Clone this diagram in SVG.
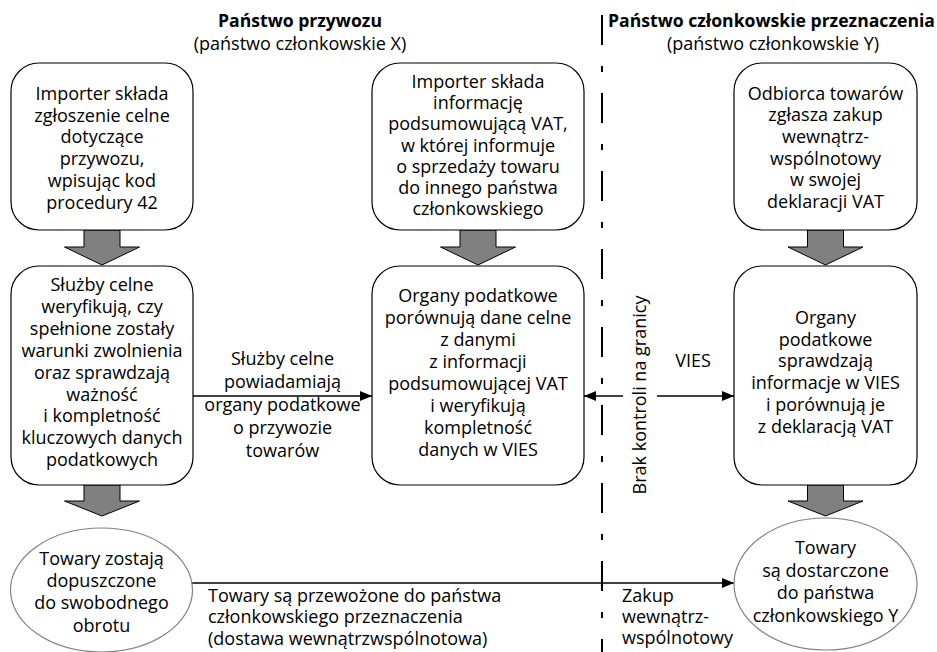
<svg xmlns="http://www.w3.org/2000/svg" width="937" height="652" viewBox="0 0 937 652">
<style>
.t{font-family:"Open Sans","DejaVu Sans",sans-serif;font-size:18px;fill:#000;text-anchor:middle}
.l{text-anchor:start}
.b{font-weight:bold;font-size:17.6px}
.box{fill:#fff;stroke:#000;stroke-width:1.2}
.ell{fill:#fff;stroke:#808080;stroke-width:1.2}
.ga{fill:#808080;stroke:#000;stroke-width:1}
.ln{stroke:#000;stroke-width:1.3;fill:none}
</style>
<defs>
<marker id="ah" markerWidth="12" markerHeight="10" refX="12" refY="5" orient="auto" markerUnits="userSpaceOnUse">
<path d="M0,0 L12,5 L0,10 Z" fill="#000"/>
</marker>
</defs>
<rect width="937" height="652" fill="#fff"/>

<g id="headers">
<text class="t b" x="300" y="27">Państwo przywozu</text>
<text class="t" x="300" y="50">(państwo członkowskie X)</text>
<text class="t b" x="771.5" y="27">Państwo członkowskie przeznaczenia</text>
<text class="t" x="773" y="50">(państwo członkowskie Y)</text>
</g>

<g id="border">
<line x1="602" y1="15" x2="602" y2="652" stroke="#000" stroke-width="2" stroke-dasharray="30 21 6 21"/>
<text class="t" transform="translate(646,395) rotate(-90)">Brak kontroli na granicy</text>
</g>

<g id="connectors">
<polygon class="ga" points="84,230 120,230 120,247 139.5,247 102,265 64.5,247 84,247"/>
<polygon class="ga" points="460,230 496,230 496,247 515.5,247 478,265 440.5,247 460,247"/>
<polygon class="ga" points="807.5,230 843.5,230 843.5,247 863,247 825.5,265 788,247 807.5,247"/>
<polygon class="ga" points="84,485 120,485 120,501 139.5,501 102,516 64.5,501 84,501"/>
<polygon class="ga" points="807.5,485 843.5,485 843.5,501 863,501 825.5,516 788,501 807.5,501"/>
<line class="ln" x1="193" y1="396" x2="372" y2="396" marker-end="url(#ah)"/>
<line class="ln" x1="623" y1="396" x2="584" y2="396" marker-end="url(#ah)"/>
<line class="ln" x1="657" y1="396" x2="734" y2="396" marker-end="url(#ah)"/>
<line class="ln" x1="192" y1="583" x2="734" y2="583" marker-end="url(#ah)"/>
<text class="t" x="282.5" y="365">Służby celne<tspan x="282.5" dy="23">powiadamiają</tspan><tspan x="282.5" dy="23">organy podatkowe</tspan><tspan x="282.5" dy="23">o przywozie</tspan><tspan x="282.5" dy="23">towarów</tspan></text>
<text class="t" x="693" y="367">VIES</text>
<text class="t l" x="208" y="602">Towary są przewożone do państwa<tspan x="208" dy="21.3">członkowskiego przeznaczenia</tspan><tspan x="208" dy="21.3">(dostawa wewnątrzwspólnotowa)</tspan></text>
<text class="t l" x="622" y="602">Zakup<tspan x="622" dy="21">wewnątrz-</tspan><tspan x="622" dy="21">wspólnotowy</tspan></text>
</g>

<g id="n1">
<rect class="box" x="11" y="63" width="182" height="167" rx="28"/>
<text class="t" x="102" y="100">Importer składa<tspan x="102" dy="21.7">zgłoszenie celne</tspan><tspan x="102" dy="21.7">dotyczące</tspan><tspan x="102" dy="21.7">przywozu,</tspan><tspan x="102" dy="21.7">wpisując kod</tspan><tspan x="102" dy="21.7">procedury 42</tspan></text>
</g>

<g id="n2">
<rect class="box" x="372" y="63" width="212" height="167" rx="28"/>
<text class="t" x="478" y="88">Importer składa<tspan x="478" dy="21.2">informację</tspan><tspan x="478" dy="21.2">podsumowującą VAT,</tspan><tspan x="478" dy="21.2">w której informuje</tspan><tspan x="478" dy="21.2">o sprzedaży towaru</tspan><tspan x="478" dy="21.2">do innego państwa</tspan><tspan x="478" dy="21.2">członkowskiego</tspan></text>
</g>

<g id="n3">
<rect class="box" x="734" y="63" width="183" height="167" rx="28"/>
<text class="t" x="825.5" y="99.5">Odbiorca towarów<tspan x="825.5" dy="21.7">zgłasza zakup</tspan><tspan x="825.5" dy="21.7">wewnątrz-</tspan><tspan x="825.5" dy="21.7">wspólnotowy</tspan><tspan x="825.5" dy="21.7">w swojej</tspan><tspan x="825.5" dy="21.7">deklaracji VAT</tspan></text>
</g>

<g id="n4">
<rect class="box" x="11" y="266" width="182" height="219" rx="28"/>
<text class="t" x="102" y="291">Służby celne<tspan x="102" dy="21.9">weryfikują, czy</tspan><tspan x="102" dy="21.9">spełnione zostały</tspan><tspan x="102" dy="21.9">warunki zwolnienia</tspan><tspan x="102" dy="21.9">oraz sprawdzają</tspan><tspan x="102" dy="21.9">ważność</tspan><tspan x="102" dy="21.9">i kompletność</tspan><tspan x="102" dy="21.9">kluczowych danych</tspan><tspan x="102" dy="21.9">podatkowych</tspan></text>
</g>

<g id="n5">
<rect class="box" x="372" y="266" width="212" height="219" rx="28"/>
<text class="t" x="478" y="302">Organy podatkowe<tspan x="478" dy="22">porównują dane celne</tspan><tspan x="478" dy="22">z danymi</tspan><tspan x="478" dy="22">z informacji</tspan><tspan x="478" dy="22">podsumowującej VAT</tspan><tspan x="478" dy="22">i weryfikują</tspan><tspan x="478" dy="22">kompletność</tspan><tspan x="478" dy="22">danych w VIES</tspan></text>
</g>

<g id="n6">
<rect class="box" x="734" y="266" width="183" height="219" rx="28"/>
<text class="t" x="825.5" y="324">Organy<tspan x="825.5" dy="21.7">podatkowe</tspan><tspan x="825.5" dy="21.7">sprawdzają</tspan><tspan x="825.5" dy="21.7">informacje w VIES</tspan><tspan x="825.5" dy="21.7">i porównują je</tspan><tspan x="825.5" dy="21.7">z deklaracją VAT</tspan></text>
</g>

<g id="n7">
<ellipse class="ell" cx="101.5" cy="590" rx="91" ry="62"/>
<text class="t" x="101.5" y="565">Towary zostają<tspan x="101.5" dy="22.2">dopuszczone</tspan><tspan x="101.5" dy="22.2">do swobodnego</tspan><tspan x="101.5" dy="22.2">obrotu</tspan></text>
</g>

<g id="n8">
<ellipse class="ell" cx="825.5" cy="584" rx="91.5" ry="66"/>
<text class="t" x="825.5" y="554">Towary<tspan x="825.5" dy="22.7">są dostarczone</tspan><tspan x="825.5" dy="22.7">do państwa</tspan><tspan x="825.5" dy="22.7">członkowskiego Y</tspan></text>
</g>
</svg>
